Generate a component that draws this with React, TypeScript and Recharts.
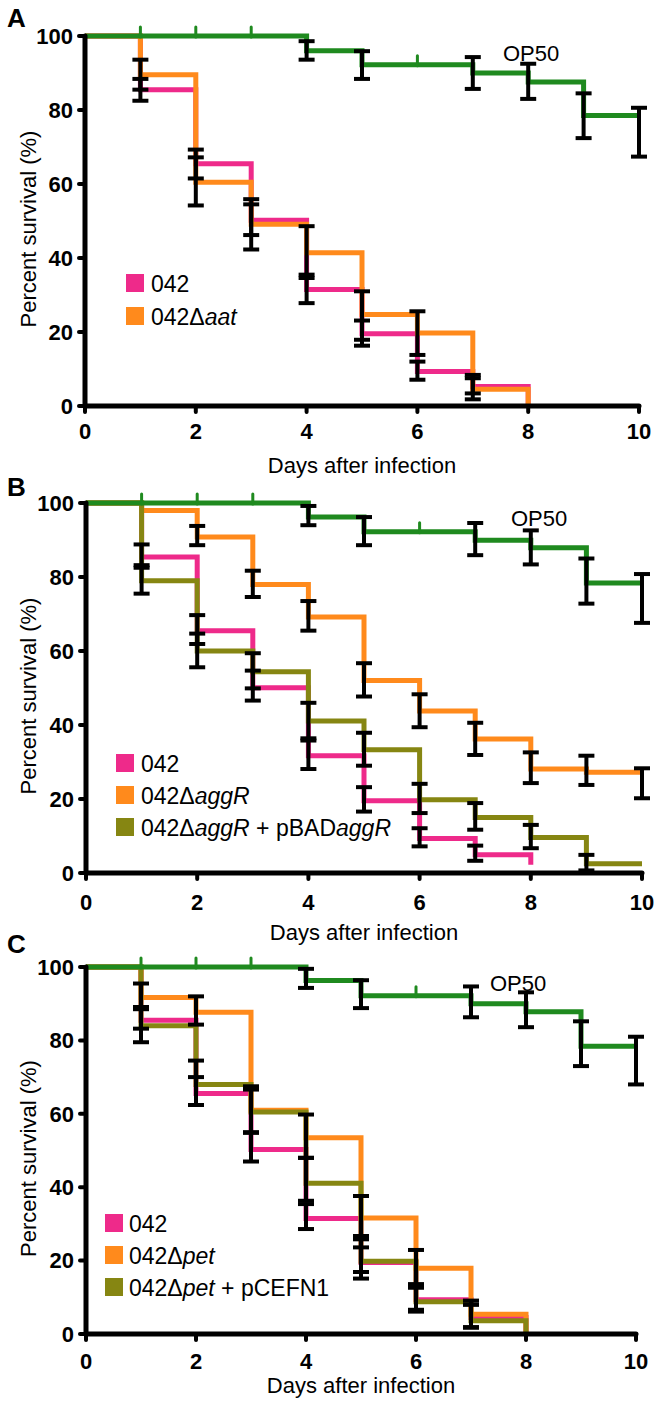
import { ComposedChart, Line, Scatter, XAxis, YAxis, ErrorBar } from 'recharts';

const FONT = '"Liberation Sans", Arial, Helvetica, sans-serif';
const GREEN = '#1f8a1f';
const PINK = '#ee2a8a';
const ORANGE = '#ff8a1c';
const OLIVE = '#868612';

type N = number | null;

const days = [0, 1, 2, 3, 4, 5, 6, 7, 8, 9, 10];
const xTicks = [0, 2, 4, 6, 8, 10];
const yTicks = [0, 20, 40, 60, 80, 100];
const censorDays = [1, 2, 3, 6];

// ---- panel A ----
const aOp50: N[] = [100, 100, 100, 100, 96, 92.2, 92.2, 90, 87.6, 78.5, 78.5];
const aOp50Lo: N[] = [null, null, null, null, 93.6, 88.4, null, 85.7, 83, 72.4, 67.4];
const aOp50Hi: N[] = [null, null, null, null, 98.6, 95.9, null, 94.3, 92.5, 84.5, 80.6];
const a042: N[] = [100, 85.5, 65.5, 50.2, 31.5, 19.5, 9.3, 5.3, 0, null, null];
const a042Lo: N[] = [null, 82.5, 61.5, 46.2, 27.8, 16.3, 7.1, 1.8, null, null, null];
const a042Hi: N[] = [null, 88.4, 69.3, 54.5, 35.5, 23.1, 12, 8.4, null, null, null];
const aAat: N[] = [100, 89.5, 60.5, 49.1, 41.4, 24.7, 19.7, 4.5, 0, null, null];
const aAatLo: N[] = [null, 85.5, 54.2, 42.3, 34.6, 17.9, 13.8, 3.4, null, null, null];
const aAatHi: N[] = [null, 93.6, 67.2, 55.9, 48.6, 31, 25.6, 7.5, null, null, null];

// ---- panel B ----
const bOp50: N[] = [100, 100, 100, 100, 96.2, 92.2, 92.2, 89.9, 87.9, 78.4, 78.4];
const bOp50Lo: N[] = [null, null, null, null, 94, 88.6, null, 85.9, 83.4, 72.8, 67.6];
const bOp50Hi: N[] = [null, null, null, null, 99.2, 96.2, null, 94.6, 92.6, 85, 80.8];
const b042: N[] = [100, 85.4, 65.5, 50.1, 31.7, 19.5, 9.3, 4.9, 2.2, null, null];
const b042Lo: N[] = [null, 82.5, 61.9, 46.6, 28.1, 16.6, 7.2, 3.3, null, null, null];
const b042Hi: N[] = [null, 88.8, 69.7, 54.7, 36.4, 23.2, 12.1, 7.4, null, null, null];
const bAggR: N[] = [100, 98, 90.8, 78, 69.2, 52, 43.8, 36.2, 28.1, 27.2, 27.2];
const bAggRLo: N[] = [null, null, 88.6, 74.6, 65.5, 47.7, 39.4, 31.9, 24.3, 23.8, 20.2];
const bAggRHi: N[] = [null, null, 93.8, 81.7, 73.5, 56.7, 48.3, 40.6, 32.6, 31.7, 28.3];
const bPbad: N[] = [100, 79, 60, 54.4, 41.1, 33.3, 19.8, 15, 9.6, 2.5, 2.5];
const bPbadLo: N[] = [null, 75.5, 55.6, 49.9, 35.8, 29, 16.2, 11.7, 6.7, 0.7, null];
const bPbadHi: N[] = [null, 83.2, 64.7, 59.4, 46, 37.9, 24.1, 18.9, 13, 4.9, null];

// ---- panel C ----
const cOp50: N[] = [100, 100, 100, 100, 96.3, 92.2, 92.2, 90, 87.8, 78.4, 78.4];
const cOp50Lo: N[] = [null, null, null, null, 94.3, 88.8, null, 86.3, 83.6, 73, 68];
const cOp50Hi: N[] = [null, null, null, null, 99.5, 96.4, null, 94.7, 93.1, 85.2, 81];
const c042: N[] = [100, 85.5, 65.5, 50.3, 31.5, 19.5, 9.3, 4.5, 0, null, null];
const c042Lo: N[] = [null, 83.2, 62.4, 47, 28.6, 16.9, 6.1, 1.8, null, null, null];
const c042Hi: N[] = [null, 89.1, 70, 54.9, 35.4, 26.7, 13.6, 8, null, null, null];
const cPet: N[] = [100, 91.7, 87.7, 61, 53.5, 31.6, 17.9, 5.4, 0, null, null];
const cPetLo: N[] = [null, 88.8, 84.3, 54.9, 48, 25.8, 13.1, 1.8, null, null, null];
const cPetHi: N[] = [null, 95.5, 92, 67.5, 59.8, 37.6, 22.9, 9.1, null, null, null];
const cCefn: N[] = [100, 84, 68, 60.5, 41.1, 19.8, 8.8, 3.6, 0, null, null];
const cCefnLo: N[] = [null, 79.5, 62.4, 54.9, 36.3, 15.1, 6.6, 1.8, null, null, null];
const cCefnHi: N[] = [null, 88.5, 74.5, 66.6, 48, 23.6, 12.6, 8, null, null, null];

type Series = { key: string; color: string; values: N[]; lo: N[]; hi: N[] };

function buildRows(series: Series[]) {
  return days.map((day, i) => {
    const row: Record<string, any> = { day };
    series.forEach((s) => {
      const v = s.values[i];
      row[s.key] = v;
      const lo = s.lo[i];
      const hi = s.hi[i];
      if (v != null && lo != null && hi != null) row[s.key + 'Err'] = [v - lo, hi - v];
    });
    return row;
  });
}

const CensorMark = (p: any) => (
  <line x1={p.cx} x2={p.cx} y1={p.cy - 9} y2={p.cy + 1} stroke={GREEN} strokeWidth={3} strokeLinecap="round" />
);

type PanelProps = {
  top: number;
  plotH: number;
  marginTop: number;
  marginRight: number;
  yWidth: number;
  xHeight: number;
  tickGap: number;
  series: Series[];
  censor: number[];
};

function Panel({ top, plotH, marginTop, marginRight, yWidth, xHeight, tickGap, series, censor }: PanelProps) {
  const rows = buildRows(series);
  const censorData = censorDays.map((d, i) => ({ day: d, value: censor[i] }));
  const tickStyle = { fill: '#000', fontSize: 22, fontWeight: 'bold', fontFamily: FONT };
  const bottom = 10;
  const yLabel = (props: any) => {
    const vb = props.viewBox;
    const cy = vb.y + vb.height / 2 + 8;
    return (
      <text x={36} y={cy} transform={`rotate(-90 36 ${cy})`} textAnchor="middle" fill="#000" fontSize={22} fontFamily={FONT}>
        Percent survival (%)
      </text>
    );
  };
  return (
    <div style={{ position: 'absolute', left: 0, top }}>
      <ComposedChart
        width={658}
        height={marginTop + plotH + xHeight + bottom}
        data={rows}
        margin={{ top: marginTop, right: marginRight, bottom, left: 0 }}
      >
        <XAxis
          type="number"
          dataKey="day"
          domain={[0, 10]}
          ticks={xTicks}
          interval={0}
          height={xHeight}
          tickSize={6}
          tickMargin={tickGap}
          axisLine={{ stroke: '#000', strokeWidth: 5, strokeLinecap: 'round' }}
          tickLine={{ stroke: '#000', strokeWidth: 4, strokeLinecap: 'round' }}
          tick={tickStyle}
          label={{ value: 'Days after infection', position: 'insideBottom', offset: 0, fill: '#000', fontSize: 22, fontFamily: FONT }}
        />
        <YAxis
          type="number"
          domain={[0, 100]}
          ticks={yTicks}
          interval={0}
          width={yWidth}
          tickSize={6}
          tickMargin={6}
          axisLine={{ stroke: '#000', strokeWidth: 5, strokeLinecap: 'round' }}
          tickLine={{ stroke: '#000', strokeWidth: 4, strokeLinecap: 'round' }}
          tick={tickStyle}
          label={yLabel}
        />
        {series.map((s) => (
          <Line
            key={s.key}
            type="stepAfter"
            dataKey={s.key}
            stroke={s.color}
            strokeWidth={5}
            dot={false}
            activeDot={false}
            isAnimationActive={false}
          />
        ))}
        <Scatter data={censorData} dataKey="value" shape={CensorMark} isAnimationActive={false} />
        {series.map((s) => (
          <Line
            key={s.key + 'bars'}
            type="stepAfter"
            dataKey={s.key}
            stroke="none"
            dot={false}
            activeDot={false}
            isAnimationActive={false}
          >
            <ErrorBar dataKey={s.key + 'Err'} direction="y" width={8} stroke="#000" strokeWidth={4} isAnimationActive={false} />
          </Line>
        ))}
      </ComposedChart>
    </div>
  );
}

type LegendItem = { color: string; label: React.ReactNode };

function LegendBox({ left, top, gap, textGap, items }: { left: number; top: number; gap: number; textGap: number; items: LegendItem[] }) {
  return (
    <>
      {items.map((it, i) => (
        <div key={i} style={{ position: 'absolute', left, top: top + i * gap }}>
          <div style={{ position: 'absolute', left: 0, top: 0, width: 18, height: 18, background: it.color }} />
          <div style={{ position: 'absolute', left: textGap, top: -1, fontFamily: FONT, fontSize: 23, lineHeight: '22px', whiteSpace: 'nowrap', color: '#000' }}>
            {it.label}
          </div>
        </div>
      ))}
    </>
  );
}

const textStyle = (left: number, top: number, size: number, bold: boolean): React.CSSProperties => ({
  position: 'absolute',
  left,
  top,
  fontFamily: FONT,
  fontSize: size,
  fontWeight: bold ? 'bold' : 'normal',
  lineHeight: `${size}px`,
  color: '#000',
  whiteSpace: 'nowrap',
});

export default function App() {
  const seriesA: Series[] = [
    { key: 's042', color: PINK, values: a042, lo: a042Lo, hi: a042Hi },
    { key: 'aat', color: ORANGE, values: aAat, lo: aAatLo, hi: aAatHi },
    { key: 'op50', color: GREEN, values: aOp50, lo: aOp50Lo, hi: aOp50Hi },
  ];
  const seriesB: Series[] = [
    { key: 's042', color: PINK, values: b042, lo: b042Lo, hi: b042Hi },
    { key: 'aggR', color: ORANGE, values: bAggR, lo: bAggRLo, hi: bAggRHi },
    { key: 'pbad', color: OLIVE, values: bPbad, lo: bPbadLo, hi: bPbadHi },
    { key: 'op50', color: GREEN, values: bOp50, lo: bOp50Lo, hi: bOp50Hi },
  ];
  const seriesC: Series[] = [
    { key: 's042', color: PINK, values: c042, lo: c042Lo, hi: c042Hi },
    { key: 'pet', color: ORANGE, values: cPet, lo: cPetLo, hi: cPetHi },
    { key: 'cefn', color: OLIVE, values: cCefn, lo: cCefnLo, hi: cCefnHi },
    { key: 'op50', color: GREEN, values: cOp50, lo: cOp50Lo, hi: cOp50Hi },
  ];

  return (
    <div style={{ position: 'absolute', left: 0, top: 0, width: 658, height: 1403, background: '#fff', overflow: 'hidden' }}>
      <Panel top={0} plotH={370} marginTop={36} marginRight={19} yWidth={85} xHeight={67} tickGap={11} series={seriesA} censor={[100, 100, 100, 92.2]} />
      <Panel top={473} plotH={370} marginTop={30} marginRight={16} yWidth={86} xHeight={67} tickGap={15} series={seriesB} censor={[100, 100, 100, 92.2]} />
      <Panel top={940} plotH={367} marginTop={27} marginRight={22} yWidth={86} xHeight={59} tickGap={13} series={seriesC} censor={[100, 100, 100, 92.2]} />

      <div style={textStyle(7, 5, 26, true)}>A</div>
      <div style={textStyle(7, 474, 26, true)}>B</div>
      <div style={textStyle(7, 931, 26, true)}>C</div>

      <div style={textStyle(503, 43, 22, false)}>OP50</div>
      <div style={textStyle(511, 508, 22, false)}>OP50</div>
      <div style={textStyle(490, 973, 22, false)}>OP50</div>

      <LegendBox
        left={126}
        top={274}
        gap={33}
        textGap={25}
        items={[
          { color: PINK, label: '042' },
          { color: ORANGE, label: <>042Δ<i>aat</i></> },
        ]}
      />
      <LegendBox
        left={116}
        top={754}
        gap={32}
        textGap={25}
        items={[
          { color: PINK, label: '042' },
          { color: ORANGE, label: <>042Δ<i>aggR</i></> },
          { color: OLIVE, label: <>042Δ<i>aggR</i> + pBAD<i>aggR</i></> },
        ]}
      />
      <LegendBox
        left={105}
        top={1214}
        gap={32}
        textGap={24}
        items={[
          { color: PINK, label: '042' },
          { color: ORANGE, label: <>042Δ<i>pet</i></> },
          { color: OLIVE, label: <>042Δ<i>pet</i> + pCEFN1</> },
        ]}
      />
    </div>
  );
}
